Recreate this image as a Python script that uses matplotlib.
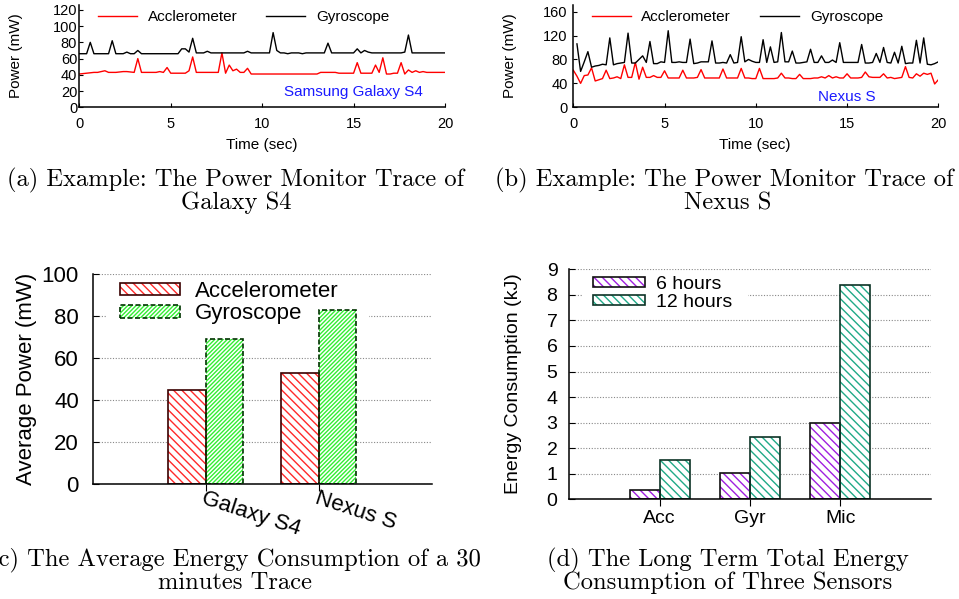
import numpy as np
import matplotlib
matplotlib.use('Agg')
import matplotlib.pyplot as plt
from matplotlib.patches import Patch, Rectangle

plt.rcParams['font.family'] = ['Liberation Sans', 'DejaVu Sans']
plt.rcParams['hatch.linewidth'] = 1.0

# ---------------- data ----------------
time_sec = np.linspace(0, 20, 101)

s4_gyro = [
    66, 66, 66, 80, 66, 66, 66, 66, 66, 82,
    66, 66, 66, 68, 66, 66, 70, 66, 66, 66,
    66, 66, 66, 66, 66, 66, 66, 66, 72, 72,
    68, 85, 67, 67, 67, 69, 67, 67, 67, 67,
    67, 67, 67, 67, 67, 67, 69, 67, 67, 67,
    67, 67, 67, 92, 70, 67, 67, 66, 67, 67,
    67, 66, 67, 67, 67, 67, 67, 67, 79, 67,
    67, 67, 67, 67, 67, 67, 72, 67, 70, 68,
    67, 67, 67, 67, 67, 67, 67, 67, 67, 68,
    89, 67, 67, 67, 67, 67, 67, 67, 67, 67,
    67]
s4_acc = [
    41, 41.5, 42, 42.5, 43, 43, 44, 45, 43, 43,
    43, 43.5, 44, 44, 43.5, 43, 60, 43, 43, 43,
    43, 43, 44, 43, 49, 42, 42, 42, 42, 42,
    45, 62, 43, 43, 43, 43, 43, 43, 43, 67,
    42, 52, 45, 47, 43, 43, 48, 41, 41, 41,
    41, 41, 41, 41, 41, 41, 41, 41, 41, 41,
    41, 41, 41, 41, 41, 41, 43, 43, 43, 43,
    43, 42, 42, 42, 42, 42, 55, 42, 42, 42,
    42, 52, 43, 61, 41, 41, 42, 42, 55, 41,
    46, 43, 45, 43, 44, 43, 43, 43, 43, 43,
    43]
nexus_gyro = [
    np.nan, 106, 60, 76, 93, 67, 69, 70, 72, 71,
    116, 71, 73, 74, 75, 124, 74, 74, 80, 86,
    75, 110, 73, 73, 76, 75, 128, 75, 75, 76,
    75, 75, 114, 73, 74, 76, 76, 76, 111, 74,
    74, 75, 74, 88, 74, 75, 118, 76, 80, 77,
    75, 75, 113, 75, 101, 75, 76, 125, 76, 76,
    94, 74, 74, 75, 76, 97, 75, 75, 86, 75,
    75, 79, 75, 108, 75, 75, 75, 75, 75, 105,
    74, 74, 75, 90, 75, 100, 75, 74, 92, 74,
    102, 73, 74, 74, 112, 74, 116, 72, 71, 73,
    76]
nexus_acc = [
    62, 52, 40, 53, 54, 66, 44, 46, 48, 62,
    48, 49, 51, 48, 71, 50, 50, 75, 47, 67,
    50, 50, 53, 50, 50, 61, 49, 49, 49, 49,
    62, 49, 49, 49, 50, 63, 49, 49, 49, 49,
    49, 64, 49, 49, 49, 49, 65, 49, 49, 48,
    48, 65, 48, 48, 48, 48, 49, 57, 49, 49,
    48, 48, 55, 48, 48, 48, 49, 49, 51, 49,
    53, 49, 51, 49, 49, 56, 49, 49, 49, 50,
    59, 51, 50, 50, 50, 56, 49, 50, 48, 49,
    50, 68, 50, 49, 56, 52, 57, 55, 57, 39,
    46]

avg_devices = ['Galaxy S4', 'Nexus S']
avg_acc = [45, 52.7]
avg_gyro = [69, 82.8]

lt_sensors = ['Acc', 'Gyr', 'Mic']
lt_6h = [0.36, 1.02, 2.97]
lt_12h = [1.54, 2.45, 8.39]

# ---------------- figure ----------------
W, H = 959, 599
fig = plt.figure(figsize=(W / 100, H / 100), dpi=100)


def ax_px(l, t, r, b):
    return fig.add_axes([l / W, 1 - b / H, (r - l) / W, (b - t) / H])


def ftext(x, y, s, **kw):
    return fig.text(x / W, 1 - y / H, s, **kw)


def style_axes(ax):
    for sp in ['top', 'right']:
        ax.spines[sp].set_visible(False)
    for sp in ['left', 'bottom']:
        ax.spines[sp].set_linewidth(1.1)


# ---- (a) Galaxy S4 trace ----
axA = ax_px(79.3, 5, 445, 107.3)
axA.plot(time_sec, s4_acc, color='#ff0000', lw=1.0, label='Acclerometer')
axA.plot(time_sec, s4_gyro, color='black', lw=1.0, label='Gyroscope')
axA.set_xlim(0, 20)
axA.set_ylim(0, 126)
axA.set_yticks([0, 20, 40, 60, 80, 100, 120])
axA.set_xticks([0, 5, 10, 15, 20])
style_axes(axA)
axA.tick_params(axis='both', direction='in', length=3, labelsize=10.5)
axA.tick_params(axis='y', pad=1.5)
axA.tick_params(axis='x', pad=7)
axA.legend(loc='center left', bbox_to_anchor=(98 / W, 1 - 17 / H),
           bbox_transform=fig.transFigure, ncol=2, frameon=False,
           fontsize=11, handlelength=2.55, handletextpad=0.7,
           columnspacing=1.9, borderpad=0, borderaxespad=0)
ftext(353, 92, 'Samsung Galaxy S4', color='#1a1aff', fontsize=11,
      ha='center', va='center')
ftext(262, 145, 'Time (sec)', fontsize=11, ha='center', va='center')
ftext(16, 55.5, 'Power (mW)', fontsize=11, ha='center', va='center',
      rotation=90)

# ---- (b) Nexus S trace ----
axB = ax_px(573.3, 5, 938.3, 107.3)
axB.plot(time_sec, nexus_acc, color='#ff0000', lw=1.0, label='Acclerometer')
axB.plot(time_sec, nexus_gyro, color='black', lw=1.0, label='Gyroscope')
axB.set_xlim(0, 20)
axB.set_ylim(0, 171)
axB.set_yticks([0, 40, 80, 120, 160])
axB.set_xticks([0, 5, 10, 15, 20])
style_axes(axB)
axB.tick_params(axis='both', direction='in', length=3, labelsize=10.5)
axB.tick_params(axis='y', pad=4)
axB.tick_params(axis='x', pad=7)
axB.legend(loc='center left', bbox_to_anchor=(591.7 / W, 1 - 17 / H),
           bbox_transform=fig.transFigure, ncol=2, frameon=False,
           fontsize=11, handlelength=2.55, handletextpad=0.7,
           columnspacing=1.9, borderpad=0, borderaxespad=0)
ftext(846.5, 96.7, 'Nexus S', color='#1a1aff', fontsize=11,
      ha='center', va='center')
ftext(755, 145, 'Time (sec)', fontsize=11, ha='center', va='center')
ftext(510, 56, 'Power (mW)', fontsize=11, ha='center', va='center',
      rotation=90)


def hatched_bars(ax, x, h, w, hatch_color, hatch, edge, ls='-'):
    ax.bar(x, h, w, color='white', edgecolor=hatch_color, hatch=hatch,
           linewidth=0, zorder=2)
    ax.bar(x, h, w, fill=False, edgecolor=edge, linewidth=1.2,
           linestyle=ls, zorder=2.1)


def legend_handle(hatch_color, hatch, edge, ls='-'):
    return (Patch(facecolor='white', edgecolor=hatch_color, hatch=hatch,
                  linewidth=0),
            Patch(fill=False, edgecolor=edge, linewidth=1.2, linestyle=ls))


grid_kw = dict(linestyle=(0, (1, 1.5)), color='#888888', linewidth=0.8)

# ---- (c) average power ----
axC = ax_px(92.7, 274, 431.7, 484)
pos_c = np.arange(1, len(avg_devices) + 1)
bw = 1 / 3
acc_style = ('#ff2a2a', '\\\\\\\\', '#3a0000', '-')
gyro_style = ('#33ee33', '////////', '#003300', (0, (3, 1.5)))
hatched_bars(axC, pos_c - bw / 2, avg_acc, bw, *acc_style)
hatched_bars(axC, pos_c + bw / 2, avg_gyro, bw, *gyro_style)
axC.set_xlim(0, 3)
axC.set_ylim(0, 100)
axC.set_yticks([0, 20, 40, 60, 80, 100])
axC.set_axisbelow(True)
axC.yaxis.grid(True, **grid_kw)
style_axes(axC)
axC.tick_params(axis='y', direction='in', length=4, labelsize=16, pad=10)
axC.set_xticks(pos_c)
axC.set_xticklabels([])
axC.tick_params(axis='x', direction='out', length=5)
for p, lab in zip(pos_c, avg_devices):
    axC.text(p, -3.7 / 210, lab, transform=axC.get_xaxis_transform(),
             rotation=-18, rotation_mode='anchor', ha='left', va='top',
             fontsize=16)
axC.add_patch(Rectangle((107 / W, 1 - 328 / H), (369 - 107) / W, 48 / H,
                        transform=fig.transFigure, facecolor='white',
                        edgecolor='none', zorder=1.5))
lgC = axC.legend([legend_handle(*acc_style), legend_handle(*gyro_style)],
                 ['Accelerometer', 'Gyroscope'],
                 loc='upper left', bbox_to_anchor=(120 / W, 1 - 281 / H),
                 bbox_transform=fig.transFigure, frameon=False, fontsize=16,
                 handlelength=2.7, handleheight=0.5, handletextpad=0.68,
                 labelspacing=0.05, borderpad=0, borderaxespad=0)
lgC.set_zorder(5)
ftext(26.7, 379, 'Average Power (mW)', fontsize=16, ha='center',
      va='center', rotation=90)

# ---- (d) long term energy ----
axD = ax_px(569.3, 269.3, 930.7, 499.3)
pos_d = np.arange(1, len(lt_sensors) + 1)
h6_style = ('#a020e0', '\\\\\\\\', '#111111', '-')
h12_style = ('#20aa88', '\\\\\\\\', '#0d3326', '-')
hatched_bars(axD, pos_d - bw / 2, lt_6h, bw, *h6_style)
hatched_bars(axD, pos_d + bw / 2, lt_12h, bw, *h12_style)
axD.set_xlim(0, 4)
axD.set_ylim(0, 9)
axD.set_yticks(range(0, 10))
axD.set_axisbelow(True)
axD.yaxis.grid(True, **grid_kw)
style_axes(axD)
axD.tick_params(axis='y', direction='in', length=4, labelsize=14, pad=8.5)
axD.set_xticks(pos_d)
axD.set_xticklabels(lt_sensors)
axD.tick_params(axis='x', direction='out', length=5, labelsize=14, pad=3)
axD.add_patch(Rectangle((583 / W, 1 - 314 / H), (748 - 583) / W, 38 / H,
                        transform=fig.transFigure, facecolor='white',
                        edgecolor='none', zorder=1.5))
lgD = axD.legend([legend_handle(*h6_style), legend_handle(*h12_style)],
                 ['6 hours', '12 hours'],
                 loc='upper left', bbox_to_anchor=(592.7 / W, 1 - 276 / H),
                 bbox_transform=fig.transFigure, frameon=False, fontsize=14,
                 handlelength=2.68, handleheight=0.46, handletextpad=0.6,
                 labelspacing=0.05, borderpad=0, borderaxespad=0)
lgD.set_zorder(5)
ftext(513, 384, 'Energy Consumption (kJ)', fontsize=14, ha='center',
      va='center', rotation=90)

# ---- captions ----
cap = dict(fontfamily='cmr10', fontsize=17.7, ha='center', va='center')
ftext(235.5, 180, '(a) Example: The Power Monitor Trace of', **cap)
ftext(236, 203, 'Galaxy S4', **cap)
ftext(724.5, 180, '(b) Example: The Power Monitor Trace of', **cap)
ftext(728, 203, 'Nexus S', **cap)
ftext(235, 560, '(c) The Average Energy Consumption of a 30', **cap)
ftext(235, 583, 'minutes Trace', **cap)
ftext(728, 560, '(d) The Long Term Total Energy', **cap)
ftext(728, 583, 'Consumption of Three Sensors', **cap)

fig.savefig('out.png', dpi=100)
